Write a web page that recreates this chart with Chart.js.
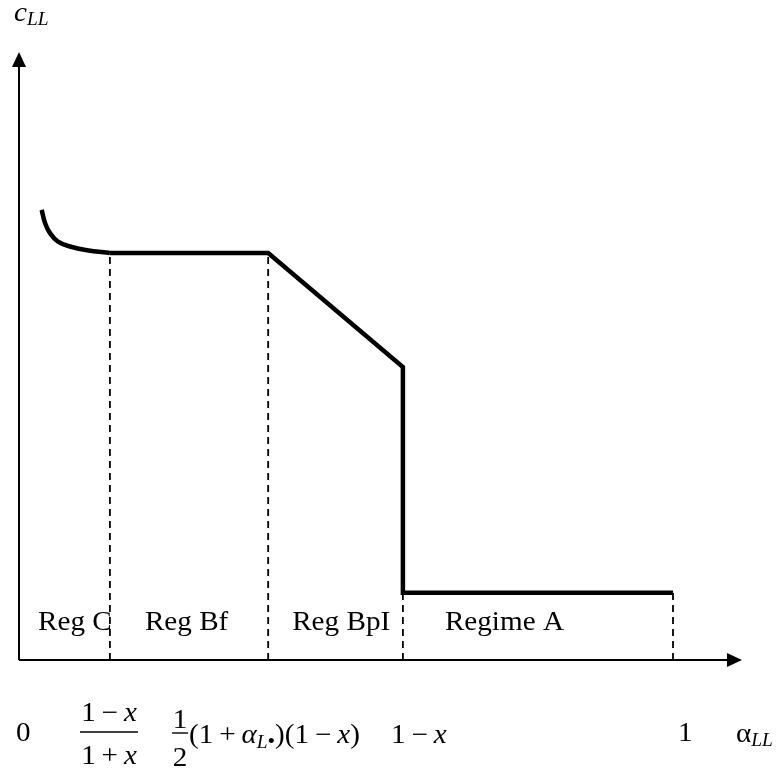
<!DOCTYPE html>
<html>
<head>
<meta charset="utf-8">
<script src="https://cdn.jsdelivr.net/npm/chart.js@4.4.0/dist/chart.umd.min.js"></script>
<style>
  body { margin: 0; background: #fff; }
  #wrap { width: 781px; height: 773px; }
</style>
</head>
<body>
<div id="wrap"><canvas id="myChart" width="781" height="773"></canvas></div>
<script>
// alpha_LL on x (0 .. 1), c_LL on y (flat part of Reg Bf = 1)
var curveX = [0.0347, 0.0398, 0.0474, 0.0596, 0.0780, 0.104, 0.139];
var curveY = [1.106, 1.074, 1.049, 1.028, 1.016, 1.007, 1.000];

var pathX = [0.139, 0.381, 0.587, 0.587, 1.0];
var pathY = [1.0, 1.0, 0.72, 0.165, 0.165];

// dashed boundaries between regimes
var edgeX = [0.139, 0.381, 0.587, 1.0];
var edgeTop = [1.0, 1.0, 0.165, 0.165];

var regimeNames = ['Reg C', 'Reg Bf', 'Reg BpI', 'Regime A'];

var xMax = 1.1055;
var yMax = 1.494;

var serif = '"Liberation Serif", "Times New Roman", serif';
var SX = 1.08; // text in the picture is a bit wide

function pts(xs, ys) {
    var out = [];
    for (var i = 0; i < xs.length; i++) out.push({x: xs[i], y: ys[i]});
    return out;
}

var datasets = [];
datasets.push({
    data: pts(curveX, curveY),
    showLine: true,
    borderColor: '#000',
    borderWidth: 4.5,
    pointRadius: 0,
    tension: 0.4,
    borderCapStyle: 'butt'
});
datasets.push({
    data: pts(pathX, pathY),
    showLine: true,
    borderColor: '#000',
    borderWidth: 4.5,
    pointRadius: 0,
    tension: 0,
    borderJoinStyle: 'miter',
    borderCapStyle: 'butt'
});
for (var i = 0; i < edgeX.length; i++) {
    datasets.push({
        data: [{x: edgeX[i], y: 0}, {x: edgeX[i], y: edgeTop[i]}],
        showLine: true,
        borderColor: '#000',
        borderWidth: 1.8,
        borderDash: [7, 5],
        pointRadius: 0
    });
}

// draws pieces of text one after another: [text, font, dy]
function run(ctx, x, y, parts) {
    ctx.save();
    ctx.translate(x, y);
    ctx.scale(SX, 1);
    var cx = 0;
    parts.forEach(function (p) {
        ctx.font = p[1];
        ctx.fillText(p[0], cx, p[2] || 0);
        cx += ctx.measureText(p[0]).width;
    });
    ctx.restore();
    return x + cx * SX;
}

function runWidth(ctx, parts) {
    var w = 0;
    ctx.save();
    parts.forEach(function (p) {
        ctx.font = p[1];
        w += ctx.measureText(p[0]).width;
    });
    ctx.restore();
    return w * SX;
}

function frac(ctx, x0, x1, barY, top, bottom, numBase, denBase) {
    ctx.save();
    ctx.strokeStyle = '#000';
    ctx.lineWidth = 1.4;
    ctx.beginPath();
    ctx.moveTo(x0, barY);
    ctx.lineTo(x1, barY);
    ctx.stroke();
    ctx.restore();
    var mid = (x0 + x1) / 2;
    run(ctx, mid - runWidth(ctx, top) / 2, numBase, top);
    run(ctx, mid - runWidth(ctx, bottom) / 2, denBase, bottom);
}

var axesAndText = {
    id: 'axesAndText',
    afterDraw: function (chart) {
        var ctx = chart.ctx;
        var xs = chart.scales.x, ys = chart.scales.y;
        var ox = xs.getPixelForValue(0), oy = ys.getPixelForValue(0);
        var right = xs.getPixelForValue(xMax), top = ys.getPixelForValue(yMax);

        ctx.save();
        ctx.strokeStyle = '#000';
        ctx.fillStyle = '#000';
        ctx.lineWidth = 2;
        ctx.beginPath();
        ctx.moveTo(ox, oy);
        ctx.lineTo(ox, top + 10);
        ctx.moveTo(ox, oy);
        ctx.lineTo(right - 10, oy);
        ctx.stroke();
        // arrow heads
        ctx.beginPath();
        ctx.moveTo(ox, top);
        ctx.lineTo(ox - 7, top + 15);
        ctx.lineTo(ox + 7, top + 15);
        ctx.closePath();
        ctx.fill();
        ctx.beginPath();
        ctx.moveTo(right, oy);
        ctx.lineTo(right - 15, oy - 7);
        ctx.lineTo(right - 15, oy + 7);
        ctx.closePath();
        ctx.fill();

        var up = '27px ' + serif;
        var it = 'italic 27px ' + serif;
        var sub = 'italic 18px ' + serif;
        ctx.textBaseline = 'alphabetic';
        ctx.textAlign = 'left';

        // regime names inside the plot
        var labelLeft = [ox + 19, xs.getPixelForValue(edgeX[0]) + 35,
                         xs.getPixelForValue(edgeX[1]) + 24, xs.getPixelForValue(edgeX[2]) + 42];
        regimeNames.forEach(function (name, k) {
            run(ctx, labelLeft[k], oy - 30, [[name, up]]);
        });

        // axis titles
        run(ctx, 14, 21, [['c', 'italic 27px ' + serif], ['LL', sub, 4]]);
        run(ctx, 736, 742, [['\u03b1', up], ['LL', sub, 4]]);

        // values under the x axis
        var b = oy + 81;
        run(ctx, 16, b, [['0', up]]);
        frac(ctx, 80, 138, oy + 72,
             [['1\u2009\u2212\u2009', up], ['x', it]],
             [['1\u2009+\u2009', up], ['x', it]],
             oy + 61, oy + 104);
        frac(ctx, 172, 188, oy + 73, [['1', up]], [['2', up]], oy + 68, oy + 106);
        run(ctx, 189, b + 2, [
            ['(1\u2009+\u2009', up], ['\u03b1', it], ['L', sub, 5], ['\u2022', '20px ' + serif, 5],
            [')(1\u2009\u2212\u2009', up], ['x', it], [')', up]
        ]);
        run(ctx, 391, b + 2, [['1\u2009\u2212\u2009', up], ['x', it]]);
        run(ctx, 678, b, [['1', up]]);
        ctx.restore();
    }
};

var ctx = document.getElementById('myChart').getContext('2d');
var myChart = new Chart(ctx, {
    type: 'scatter',
    data: { datasets: datasets },
    options: {
        responsive: false,
        animation: false,
        layout: { padding: { left: 19, right: 39, top: 52, bottom: 113 } },
        plugins: { legend: { display: false }, tooltip: { enabled: false } },
        scales: {
            x: { type: 'linear', min: 0, max: xMax, display: false },
            y: { type: 'linear', min: 0, max: yMax, display: false }
        }
    },
    plugins: [axesAndText]
});
</script>
</body>
</html>
